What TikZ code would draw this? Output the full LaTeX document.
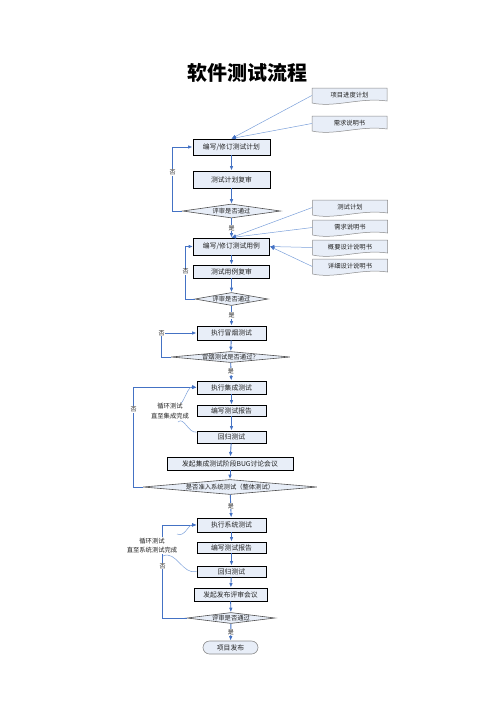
\documentclass[tikz,border=0pt]{standalone}
\usepackage{fontspec}
\newfontfamily\cjk{Noto Sans CJK SC}
\usetikzlibrary{arrows.meta,shapes.geometric}
\definecolor{flowblue}{HTML}{4472C4}
\definecolor{lineblue}{HTML}{7BA0DA}
\definecolor{boxfill}{HTML}{E8EEF8}
\definecolor{docborder}{HTML}{8A8A8A}
\definecolor{diaborder}{HTML}{505050}
\definecolor{txt}{HTML}{222222}
\newcommand\docnode[3]{%
  \begin{scope}[shift={(#2)}]
    \path[docshape] (-37.5,-8) -- (37.5,-8) -- (37.5,5) .. controls (12,1) and (-15,12) .. (-37.5,7) -- cycle;
    \node[doctext] (#1) at (0,-0.5) {#3};
  \end{scope}}
\begin{document}
\begin{tikzpicture}[x=1pt,y=-1pt,
  box/.style={draw=black,line width=0.9pt,fill=boxfill,inner sep=0pt,font=\cjk\fontsize{6.8}{8}\selectfont,text=txt},
  dia/.style={diamond,draw=diaborder,line width=0.6pt,fill=boxfill,inner sep=0pt,aspect=5},
  every label/.style={font=\cjk\fontsize{6.3}{7}\selectfont,text=txt},
  flow/.style={draw=flowblue,line width=0.9pt,-{Latex[length=4.5pt,width=3.6pt]}},
  thinline/.style={draw=lineblue,line width=0.5pt},
  thinarrow/.style={thinline,-{Latex[length=4.5pt,width=3.6pt,color=flowblue]}},
  yn/.style={font=\cjk\fontsize{6}{7}\selectfont,text=txt,fill=white,inner sep=0.6pt},
  docshape/.style={draw=docborder,line width=0.5pt,fill=boxfill},
  doctext/.style={font=\cjk\fontsize{6.3}{7}\selectfont,minimum width=75,minimum height=12,inner sep=0pt,text=txt},
  looplabel/.style={font=\cjk\fontsize{6.3}{9.5}\selectfont,text=txt,align=center,fill=white,inner sep=0.5pt},
]
\useasboundingbox (0,0) rectangle (496,702);

\node[font=\cjk\bfseries\fontsize{20}{24}\selectfont] (title) at (247,73) {软件测试流程};

% documents
\docnode{doc1}{349.5,96}{项目进度计划}
\docnode{doc2}{349.5,124}{需求说明书}
\docnode{doc3}{350,208}{测试计划}
\docnode{doc4}{350,228}{需求说明书}
\docnode{doc5}{350,248}{概要设计说明书}
\docnode{doc6}{350,267}{详细设计说明书}

% boxes
\node[box,minimum width=77,minimum height=16] (b1) at (231.5,147) {编写/修订测试计划};
\node[box,minimum width=77,minimum height=17] (b2) at (231.5,179.5) {测试计划复审};
\node[dia,minimum width=98,minimum height=14,label={center:评审是否通过}] (d1) at (231.5,211) {};
\node[box,minimum width=76,minimum height=17] (b3) at (231.5,246.5) {编写/修订测试用例};
\node[box,minimum width=76,minimum height=13] (b4) at (231.5,271.5) {测试用例复审};
\node[dia,minimum width=73,minimum height=13,label={center:评审是否通过}] (d2) at (231.5,299) {};
\node[box,minimum width=69,minimum height=14] (b5) at (231.5,333) {执行冒烟测试};
\node[dia,minimum width=119,minimum height=11,label={center:冒烟测试是否通过？}] (d3) at (230.5,357) {};
\node[box,minimum width=69,minimum height=13] (b6) at (231.5,387.5) {执行集成测试};
\node[box,minimum width=69,minimum height=11] (b7) at (231.5,410.5) {编写测试报告};
\node[box,minimum width=69,minimum height=12] (b8) at (231.5,437) {回归测试};
\node[box,minimum width=126,minimum height=13] (b9) at (230,463.5) {发起集成测试阶段BUG讨论会议};
\node[dia,minimum width=174,minimum height=15,label={center:是否准入系统测试（整体测试）}] (d4) at (230,487) {};
\node[box,minimum width=69,minimum height=14] (b10) at (231.5,525) {执行系统测试};
\node[box,minimum width=69,minimum height=11] (b11) at (231.5,547.5) {编写测试报告};
\node[box,minimum width=69,minimum height=11] (b12) at (231.5,571.5) {回归测试};
\node[box,minimum width=73,minimum height=13] (b13) at (230.5,594.5) {发起发布评审会议};
\node[dia,minimum width=88,minimum height=11,label={center:评审是否通过}] (d5) at (231,618) {};
\node[draw=docborder,line width=0.6pt,fill=boxfill,rounded corners=6.5pt,minimum width=55,minimum height=13,inner sep=0pt,font=\cjk\fontsize{6.8}{8}\selectfont,text=txt] (t1) at (230.5,647.5) {项目发布};

% loop labels
\node[looplabel] (lp1) at (170,411) {循环测试\\直至集成完成};
\node[looplabel] (lp2) at (152,545.5) {循环测试\\直至系统测试完成};

% document connectors
\draw[thinarrow] (doc1.west) -- (b1.north);
\draw[thinarrow] (doc2.west) -- (b1.north);
\draw[thinarrow] (doc3.west) -- (b3.north);
\draw[thinarrow] (doc4.west) -- (b3.north);
\draw[thinarrow] (doc5.west) -- (b3.east);
\draw[thinarrow] (doc6.west) -- (b3.east);

% main flow
\draw[flow] (b1) -- (b2);
\draw[flow] (b2) -- (d1);
\draw[flow] (d1) -- (b3) node[yn,midway] {是};
\draw[flow] (b3) -- (b4);
\draw[flow] (b4) -- (d2);
\draw[flow] (d2) -- (b5) node[yn,midway] {是};
\draw[flow] (b5) -- (d3);
\draw[flow] (d3) -- (b6) node[yn,midway] {是};
\draw[flow] (b6) -- (b7);
\draw[flow] (b7) -- (b8);
\draw[flow] (b8) -- (b9);
\draw[flow] (b9) -- (d4);
\draw[flow] (d4) -- (b10) node[yn,midway] {是};
\draw[flow] (b10) -- (b11);
\draw[flow] (b11) -- (b12);
\draw[flow] (b12) -- (b13);
\draw[flow] (b13) -- (d5);
\draw[flow] (d5) -- (t1) node[yn,midway] {是};

% no-loops
\draw[flow] (d1.west) -- ++(-9.5,0) |- (b1.west) node[yn,pos=0.3] {否};
\draw[flow] (d2.west) -- ++(-9,0) |- (b3.west) node[yn,pos=0.26] {否};
\draw[flow] (d3.west) -- ++(-9,0) |- (b5.west) node[yn,pos=0.5] {否};
\draw[flow] (d4.west) -- ++(-9,0) |- (b6.west) node[yn,pos=0.39] {否};
\draw[flow] (d5.west) -- ++(-24,0) |- (b10.west) node[yn,pos=0.28] {否};

% cycle curves
\coordinate (c1s) at (177,403);
\coordinate (c2s) at (178,422);
\coordinate (c3s) at (177,534);
\coordinate (c4s) at (163,556);
\draw[thinarrow] (c1s) to[out=-60,in=170] (b6.west);
\draw[thinline] (c2s) to[out=45,in=190] (b8.172);
\draw[thinarrow] (c3s) to[out=-25,in=178] (b10.west);
\draw[thinline] (c4s) to[out=25,in=195] (b12.west);

% redraw loop labels on top
\node[looplabel] at (lp1) {循环测试\\直至集成完成};
\node[looplabel] at (lp2) {循环测试\\直至系统测试完成};
\end{tikzpicture}
\end{document}
